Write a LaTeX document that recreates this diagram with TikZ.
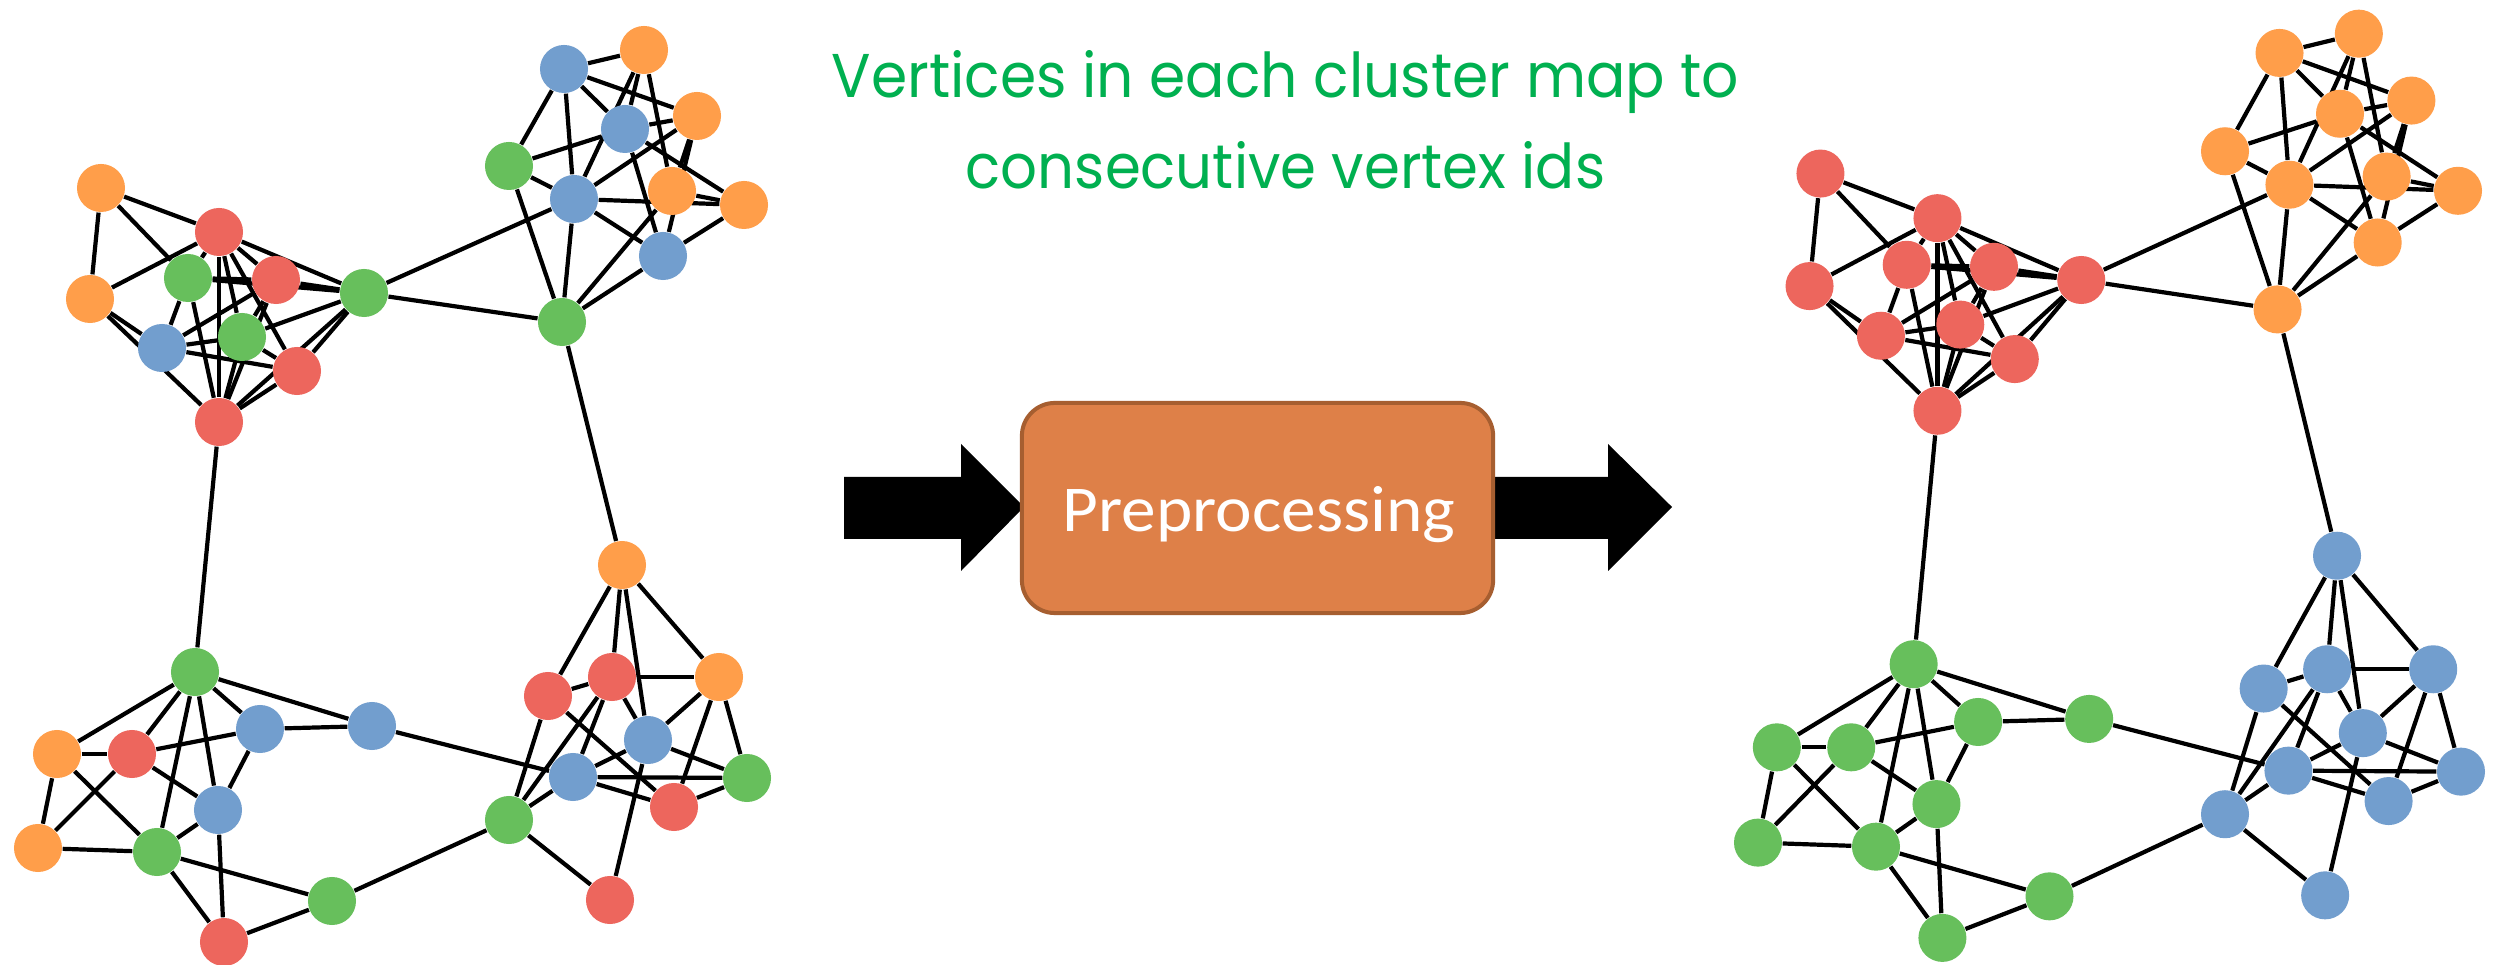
\documentclass[tikz,border=0pt]{standalone}
\usepackage{fontspec}
\usepackage{graphicx}
\newfontfamily\headfont{Poppins}
\newfontfamily\boxfont{Carlito}

\pgfdeclarelayer{canvas}
\pgfdeclarelayer{links}
\pgfsetlayers{canvas,links,main}

\definecolor{vblue}{RGB}{114,158,206}
\definecolor{vorange}{RGB}{255,158,74}
\definecolor{vgreen}{RGB}{103,191,92}
\definecolor{vred}{RGB}{237,102,93}
\definecolor{capgreen}{RGB}{0,176,80}
\definecolor{procfill}{RGB}{222,128,72}
\definecolor{procedge}{RGB}{166,94,48}

% vertices of each cluster: name/x/y/colour before preprocessing
\newcommand\vertsA{a1/101/188/vorange, a2/90/299/vorange, a3/219/232/vred, a4/188/278/vgreen,
  a5/276/280/vred, a6/364/293/vgreen, a7/162/348/vblue, a8/242/337/vgreen, a9/297/371/vred, a10/219/422/vred}
\newcommand\vertsB{b1/564/69/vblue, b2/644/50/vorange, b3/697/116/vorange, b4/625/129/vblue,
  b5/509/166/vgreen, b6/574/199/vblue, b7/672/191/vorange, b8/744/205/vorange, b9/663/256/vblue, b10/562/322/vgreen}
\newcommand\vertsC{c1/195/672/vgreen, c2/57/754/vorange, c3/132/754/vred, c4/260/729/vblue,
  c5/372/726/vblue, c6/218/810/vblue, c7/38/848/vorange, c8/157/852/vgreen, c9/332/901/vgreen, c10/224/942/vred}
\newcommand\vertsD{d1/622/565/vorange, d2/548/696/vred, d3/612/677/vred, d4/719/677/vorange,
  d5/648/740/vblue, d6/573/777/vblue, d7/747/778/vgreen, d8/674/807/vred, d9/509/820/vgreen, d10/610/900/vred}

% edge list shared by both drawings of the graph
\newcommand\graphedges{a1/a2, a1/a3, a1/a4, a2/a3, a2/a7, a2/a10, a3/a4, a3/a5, a3/a6, a3/a8, a3/a9, a3/a10,
  a4/a5, a4/a6, a4/a7, a4/a10, a5/a6, a5/a7, a5/a8, a5/a10, a6/a8, a6/a9, a6/a10, a7/a8, a7/a9, a8/a9, a8/a10, a9/a10,
  b1/b2, b1/b3, b1/b4, b1/b5, b1/b6, b2/b4, b2/b6, b2/b7, b3/b4, b3/b6, b3/b7, b3/b9, b4/b5, b4/b8, b4/b9,
  b5/b6, b5/b10, b6/b8, b6/b9, b6/b10, b7/b8, b7/b10, b8/b9, b9/b10,
  c1/c2, c1/c3, c1/c4, c1/c5, c1/c6, c1/c8, c2/c3, c2/c7, c2/c8, c3/c4, c3/c6, c3/c7, c4/c5, c4/c6,
  c6/c8, c6/c10, c7/c8, c8/c9, c8/c10, c9/c10,
  d1/d2, d1/d3, d1/d4, d1/d5, d2/d3, d2/d8, d2/d9, d3/d4, d3/d5, d3/d6, d3/d9, d4/d5, d4/d7, d4/d8,
  d5/d6, d5/d7, d5/d10, d6/d7, d6/d8, d6/d9, d7/d8, d9/d10,
  a6/b6, a6/b10, a10/c1, b10/d1, c5/d6, c9/d9}

\begin{document}
\begin{tikzpicture}[x=0.01cm, y=-0.01cm,
  vertex/.style={circle, inner sep=0pt, minimum size=0.48cm},
  edge/.style={line width=0.042cm, black},
  blockarrow/.style={fill=black},
  procbox/.style={draw=procedge, line width=0.04cm, fill=procfill, rounded corners=0.33cm,
    minimum width=4.71cm, minimum height=2.10cm, inner sep=0pt},
  caption/.style={anchor=base, inner sep=0pt, text=capgreen},
  proclabel/.style={anchor=base, inner sep=0pt, text=white}]

\begin{pgfonlayer}{canvas}
\fill[white] (0,0) rectangle (2504,965);
\end{pgfonlayer}
\useasboundingbox (0,0) rectangle (2504,965);

% input graph, coloured by original vertex ids
\foreach \n/\x/\y/\c in \vertsA {\node[vertex, fill=\c] (L\n) at (\x,\y) {};}
\foreach \n/\x/\y/\c in \vertsB {\node[vertex, fill=\c] (L\n) at (\x,\y) {};}
\foreach \n/\x/\y/\c in \vertsC {\node[vertex, fill=\c] (L\n) at (\x,\y) {};}
\foreach \n/\x/\y/\c in \vertsD {\node[vertex, fill=\c] (L\n) at (\x,\y) {};}

% output graph, one colour per cluster
\begin{scope}[shift={(1720.3,-17)}, xscale=0.9915, yscale=1.0137]
\foreach \n/\x/\y/\c in \vertsA {\node[vertex, fill=vred] (R\n) at (\x,\y) {};}
\foreach \n/\x/\y/\c in \vertsB {\node[vertex, fill=vorange] (R\n) at (\x,\y) {};}
\foreach \n/\x/\y/\c in \vertsC {\node[vertex, fill=vgreen] (R\n) at (\x,\y) {};}
\foreach \n/\x/\y/\c in \vertsD {\node[vertex, fill=vblue] (R\n) at (\x,\y) {};}
\end{scope}

\begin{pgfonlayer}{links}
\foreach \u/\v in \graphedges {
  \draw[edge] (L\u) -- (L\v);
  \draw[edge] (R\u) -- (R\v);
}
\end{pgfonlayer}

% caption
\node[caption] (cap1) at (1285.5,97.7) {\resizebox{9.07cm}{0.47cm}{\headfont Vertices in each cluster map to}};
\node[caption] (cap2) at (1285.5,188.3) {\resizebox{6.39cm}{0.47cm}{\headfont consecutive vertex ids}};

% block arrows and the preprocessing step
\fill[blockarrow] (844,477) -- (961,477) -- (961,444) -- (1024,507) -- (961,571) -- (961,539) -- (844,539) -- cycle;
\fill[blockarrow] (1480,477) -- (1608,477) -- (1608,444) -- (1672,507) -- (1608,571) -- (1608,539) -- (1480,539) -- cycle;
\node[procbox] (proc) at (1257.5,508) {};
\node[proclabel] (proctext) at (1259,532) {\resizebox{3.92cm}{0.45cm}{\boxfont Preprocessing}};
\end{tikzpicture}
\end{document}
